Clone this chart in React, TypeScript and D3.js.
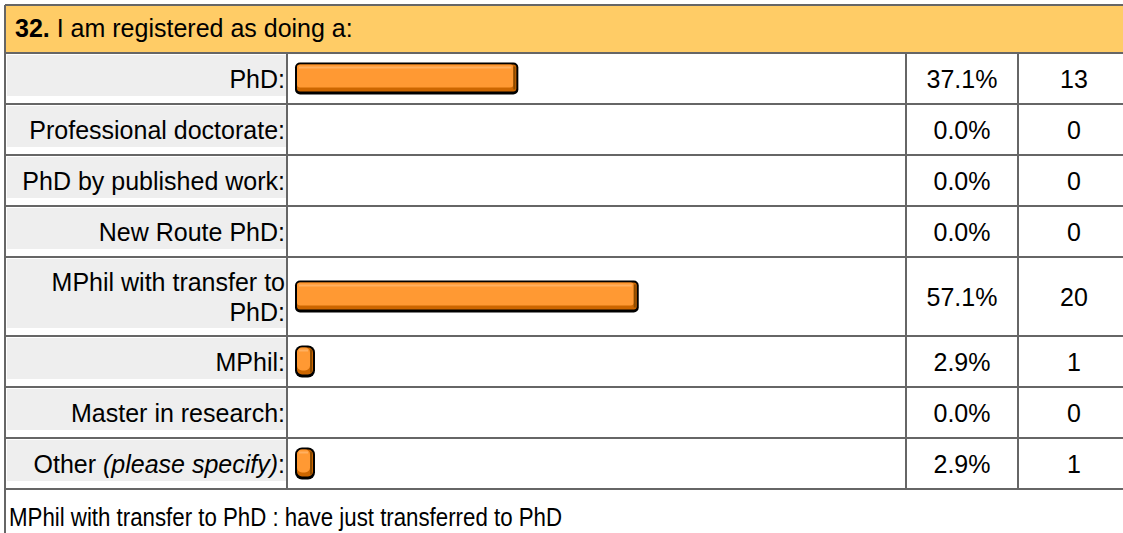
import React from 'react';
import * as d3 from 'd3';

const title = 'I am registered as doing a:';
const questionNo = '32.';
const categories = [
  'PhD:',
  'Professional doctorate:',
  'PhD by published work:',
  'New Route PhD:',
  'MPhil with transfer to\nPhD:',
  'MPhil:',
  'Master in research:',
  'Other (please specify):'
];
const percents = [37.1, 0.0, 0.0, 0.0, 57.1, 2.9, 0.0, 2.9];
const counts = [13, 0, 0, 0, 20, 1, 0, 1];
const comment = 'MPhil with transfer to PhD : have just transferred to PhD';

const W = 1123;
const H = 533;
const font = '"Liberation Sans", Arial, Helvetica, sans-serif';
const line = '#666666';

// column edges
const colLeft = 5;
const colLabel = 287;
const colPct = 906;
const colCount = 1018;
const colEnd = 1130;
const headerTop = 5;
const headerBottom = 53;

const x = d3.scaleLinear().domain([0, 100]).range([0, 602]);

// Label text, splitting out the italic "(...)" part
function LabelText({ text, y }: { text: string; y: number }) {
  const m = text.match(/^(.*?)(\(.*\))(.*)$/);
  if (!m) {
    return <text x={colLabel - 2} y={y} textAnchor="end">{text}</text>;
  }
  return (
    <text x={colLabel - 2} y={y} textAnchor="end">
      <tspan>{m[1]}</tspan>
      <tspan fontStyle="italic">{m[2]}</tspan>
      <tspan>{m[3]}</tspan>
    </text>
  );
}

function Bar({ x0, y0, w }: { x0: number; y0: number; w: number }) {
  const h = 32;
  const r = w < 30 ? 7 : 5;
  return (
    <g>
      <rect x={x0} y={y0} width={w} height={h} rx={r} fill="#000" />
      <rect x={x0 + 2} y={y0 + 2} width={w - 4} height={h - 5} rx={r - 2} fill="#CC6600" />
      <rect x={x0 + 2} y={y0 + 2} width={w - 7} height={h - 9} rx={r - 2} fill="#FF9933" />
      <rect x={x0 + 4} y={y0 + 4} width={Math.max(0, w - 11)} height={2} fill="#FFB060" />
      <rect x={x0 + w - 5} y={y0 + 4} width={2} height={h - 9} fill="#8A4A00" />
    </g>
  );
}

export default function App() {
  const rowH = categories.map(c => (c.includes('\n') ? 79 : 51));
  const tops: number[] = [];
  let acc = headerBottom;
  rowH.forEach(h => { tops.push(acc); acc += h; });
  const tableBottom = acc;

  return (
    <svg width={W} height={H} style={{ position: 'absolute', left: 0, top: 0, background: '#fff' }}
      fontFamily={font} fontSize={25} fill="#000">
      {/* header */}
      <rect x={colLeft} y={headerTop} width={W - colLeft} height={headerBottom - headerTop} fill="#FFCC66" />
      <text x={15} y={37}>
        <tspan fontWeight="bold">{questionNo}</tspan>
        <tspan> {title}</tspan>
      </text>

      {categories.map((c, i) => {
        const top = tops[i];
        const h = rowH[i];
        const cy = top + h / 2;
        const lines = c.split('\n');
        const w = percents[i] > 0 ? Math.max(20, x(percents[i])) : 0;
        return (
          <g key={c}>
            <rect x={colLeft + 2} y={top + 2} width={colLabel - colLeft - 3} height={h - 10} fill="#EEEEEE" />
            {lines.map((l, j) => (
              <LabelText key={j} text={l} y={cy + 9 + (j - (lines.length - 1) / 2) * 30} />
            ))}
            {w > 0 && <Bar x0={colLabel + 8} y0={cy - 16} w={w} />}
            <text x={(colPct + colCount) / 2} y={cy + 9} textAnchor="middle">
              {percents[i].toFixed(1)}%
            </text>
            <text x={(colCount + colEnd) / 2} y={cy + 9} textAnchor="middle">{counts[i]}</text>
          </g>
        );
      })}

      {/* grid lines */}
      <g stroke={line} strokeWidth={2}>
        <line x1={colLeft} x2={W} y1={headerTop} y2={headerTop} />
        <line x1={colLeft} x2={W} y1={headerBottom} y2={headerBottom} />
        {tops.slice(1).map(t => (
          <line key={t} x1={colLeft} x2={W} y1={t} y2={t} />
        ))}
        <line x1={colLeft} x2={W} y1={tableBottom} y2={tableBottom} />
        <line x1={colLeft} x2={colLeft} y1={headerTop} y2={H} />
        {[colLabel, colPct, colCount].map(cx => (
          <line key={cx} x1={cx} x2={cx} y1={headerBottom} y2={tableBottom} />
        ))}
      </g>

      {/* comment */}
      <text x={9} y={526} textLength={553} lengthAdjust="spacingAndGlyphs">{comment}</text>
    </svg>
  );
}
